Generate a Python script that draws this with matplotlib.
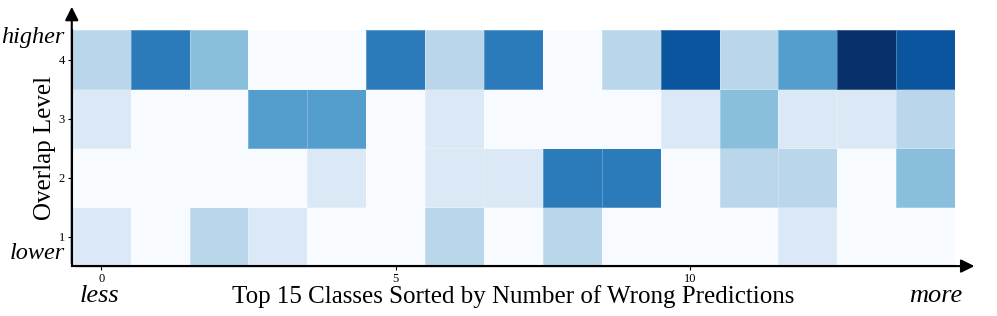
import numpy as np
import matplotlib
matplotlib.use('Agg')
import matplotlib.pyplot as plt

plt.rcParams['font.family'] = ['Liberation Serif', 'DejaVu Serif']

# wrong-prediction counts per overlap level (rows: level 1..4), columns: class rank 0..14
level1 = [1, 0, 2, 1, 0, 0, 2, 0, 2, 0, 0, 0, 1, 0, 0]
level2 = [0, 0, 0, 0, 1, 0, 1, 1, 5, 5, 0, 2, 2, 0, 3]
level3 = [1, 0, 0, 4, 4, 0, 1, 0, 0, 0, 1, 3, 1, 1, 2]
level4 = [2, 5, 3, 0, 0, 5, 2, 5, 0, 2, 6, 2, 4, 7, 6]
levels = [1, 2, 3, 4]
xticks = [0, 5, 10]

data = np.array([level1, level2, level3, level4])
ncls = data.shape[1]

fig = plt.figure(figsize=(9.97, 3.16), dpi=100)
ax = fig.add_axes([0.072, 0.158, 0.886, 0.747])

xe = np.arange(ncls + 1) - 0.5
ye = np.arange(len(levels) + 1) + 0.5
ax.pcolormesh(xe, ye, data, cmap='Blues', vmin=0, vmax=7,
              edgecolor=(1, 1, 1, 0.25), linewidth=0.5)
ax.set_xlim(-0.5, ncls - 0.5)
ax.set_ylim(0.5, len(levels) + 0.5)

ax.set_xticks(xticks)
ax.set_yticks(levels)
ax.tick_params(labelsize=9, length=3, width=0.8, pad=2)

for s in ['top', 'right']:
    ax.spines[s].set_visible(False)
for s in ['left', 'bottom']:
    ax.spines[s].set_linewidth(1.5)

# axis arrows
ax.annotate('', xy=(1.025, 0), xytext=(0, 0), xycoords='axes fraction',
            arrowprops=dict(arrowstyle='-|>', color='black', lw=1.5, mutation_scale=20),
            annotation_clip=False)
ax.annotate('', xy=(0, 1.11), xytext=(0, 0), xycoords='axes fraction',
            arrowprops=dict(arrowstyle='-|>', color='black', lw=1.5, mutation_scale=20),
            annotation_clip=False)

ax.set_xlabel('Top 15 Classes Sorted by Number of Wrong Predictions', fontsize=18, labelpad=0)
ax.set_ylabel('Overlap Level', fontsize=18, labelpad=2)

ax.text(-0.008, 0.97, 'higher', transform=ax.transAxes, ha='right', va='center',
        fontsize=17.5, style='italic')
ax.text(-0.008, 0.055, 'lower', transform=ax.transAxes, ha='right', va='center',
        fontsize=17.5, style='italic')
ax.text(0.009, -0.125, 'less', transform=ax.transAxes, ha='left', va='center',
        fontsize=19, style='italic')
ax.text(1.008, -0.125, 'more', transform=ax.transAxes, ha='right', va='center',
        fontsize=19, style='italic')

fig.savefig('out.png', dpi=100)
